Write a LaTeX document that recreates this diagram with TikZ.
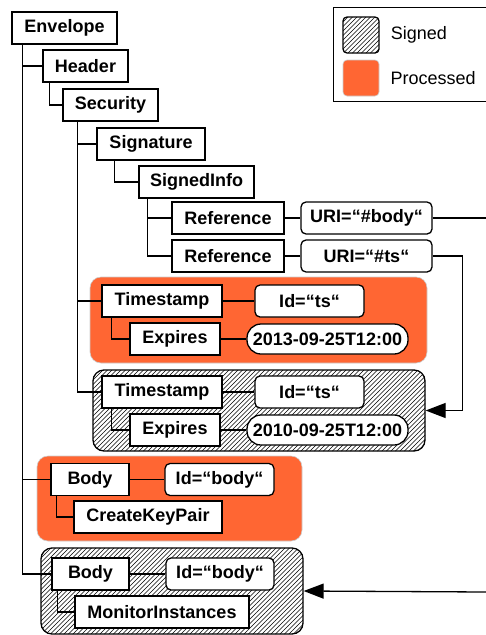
\documentclass[tikz,border=0pt]{standalone}
\usepackage{fontspec}
\setmainfont{Liberation Sans}
\usetikzlibrary{arrows.meta,patterns,positioning}

\definecolor{procorange}{RGB}{255,102,51}
\pgfdeclarepatternformonly{hatch}{\pgfqpoint{-1pt}{-1pt}}{\pgfqpoint{5.5pt}{5.5pt}}{\pgfqpoint{4.5pt}{4.5pt}}{
	\pgfsetlinewidth{0.7pt}
	\pgfpathmoveto{\pgfqpoint{0pt}{0pt}}
	\pgfpathlineto{\pgfqpoint{4.6pt}{4.6pt}}
	\pgfusepath{stroke}}

\begin{document}
\begin{tikzpicture}[x=1pt,y=-1pt,
		elem/.style={draw,fill=white,line width=1.3pt,inner sep=0pt,minimum height=32pt,font=\fontsize{18}{21}\selectfont\bfseries},
		attr/.style={elem,rounded corners=5pt},
		valu/.style={elem,rounded corners=14pt,minimum height=30pt},
		proc/.style={fill=procorange,draw=black!20,line width=0.6pt,rounded corners=11pt,inner sep=0pt},
		sign/.style={draw,line width=1.3pt,pattern=hatch,rounded corners=11pt,inner sep=0pt},
		link/.style={line width=1.3pt},
		ref/.style={line width=1.3pt,-{Triangle[length=20pt,width=15pt]}}]
	\useasboundingbox (0,0) rectangle (485,635);
	% legend
	\draw[line width=1pt] (486,7) -| (333,101) -- (486,101);
	\node[sign,rounded corners=4pt,minimum size=36pt] (keysign) at (361,35) {};
	\node[proc,rounded corners=4pt,minimum size=36pt] (keyproc) at (361,78) {};
	\node[right=11pt of keysign,inner sep=0pt,font=\fontsize{18}{21}\selectfont] (txtsign) {Signed};
	\node[right=11pt of keyproc,inner sep=0pt,font=\fontsize{18}{21}\selectfont] (txtproc) {Processed};
	% groups
	\node[proc,minimum width=337pt,minimum height=86pt] (grp1) at (258.5,320) {};
	\node[sign,minimum width=332pt,minimum height=81pt] (grp2) at (259,410.5) {};
	\node[proc,minimum width=265pt,minimum height=85pt] (grp3) at (169.5,498.5) {};
	\node[sign,minimum width=262pt,minimum height=86pt] (grp4) at (172,591) {};
	% elements
	\node[elem,minimum width=105pt] (env) at (64.5,28) {Envelope};
	\node[elem,minimum width=85pt] (hdr) at (85.5,66) {Header};
	\node[elem,minimum width=95pt] (sec) at (110.5,105) {Security};
	\node[elem,minimum width=108pt] (sig) at (151,144) {Signature};
	\node[elem,minimum width=115pt] (sinfo) at (196.5,182) {SignedInfo};
	\node[elem,minimum width=112pt] (ref1) at (228,218) {Reference};
	\node[elem,minimum width=112pt] (ref2) at (228,256) {Reference};
	\node[attr,minimum width=131pt] (uri1) at (366.5,218) {URI=“\#body“};
	\node[attr,minimum width=131pt] (uri2) at (366.5,256) {URI=“\#ts“};
	\node[elem,minimum width=120pt] (ts1) at (162,301) {Timestamp};
	\node[attr,minimum width=109pt] (id1) at (309.5,301) {Id=“ts“};
	\node[elem,minimum width=90pt] (exp1) at (175,339) {Expires};
	\node[valu,minimum width=161pt] (date1) at (327.5,339) {2013-09-25T12:00};
	\node[elem,minimum width=120pt] (ts2) at (162,392) {Timestamp};
	\node[attr,minimum width=109pt] (id2) at (309.5,392) {Id=“ts“};
	\node[elem,minimum width=90pt] (exp2) at (175,430) {Expires};
	\node[valu,minimum width=161pt] (date2) at (327.5,430) {2010-09-25T12:00};
	\node[elem,minimum width=78pt] (body1) at (90,479.5) {Body};
	\node[attr,minimum width=109pt] (idb1) at (219.5,479.5) {Id=“body“};
	\node[elem,minimum width=148pt] (ckp) at (148,517) {CreateKeyPair};
	\node[elem,minimum width=77pt] (body2) at (90.5,574) {Body};
	\node[attr,minimum width=108pt] (idb2) at (220,574) {Id=“body“};
	\node[elem,minimum width=174pt] (mon) at (162,612) {MonitorInstances};
	% tree
	\draw[link] ([xshift=11pt]env.south west) |- (hdr.west);
	\draw[link] ([xshift=11pt]env.south west) |- (body1.west);
	\draw[link] ([xshift=11pt]env.south west) |- (body2.west);
	\draw[link] ([xshift=7pt]hdr.south west) |- (sec.west);
	\draw[link] ([xshift=15pt]sec.south west) |- (sig.west);
	\draw[link] ([xshift=15pt]sec.south west) |- (ts1.west);
	\draw[link] ([xshift=15pt]sec.south west) |- (ts2.west);
	\draw[link] ([xshift=18pt]sig.south west) |- (sinfo.west);
	\draw[link] ([xshift=9pt]sinfo.south west) |- (ref1.west);
	\draw[link] ([xshift=9pt]sinfo.south west) |- (ref2.west);
	\draw[link] (ref1) -- (uri1);
	\draw[link] (ref2) -- (uri2);
	\draw[link] ([xshift=10pt]ts1.south west) |- (exp1.west);
	\draw[link] (ts1) -- (id1);
	\draw[link] (exp1) -- (date1);
	\draw[link] ([xshift=10pt]ts2.south west) |- (exp2.west);
	\draw[link] (ts2) -- (id2);
	\draw[link] (exp2) -- (date2);
	\draw[link] ([xshift=6pt]body1.south west) |- (ckp.west);
	\draw[link] (body1) -- (idb1);
	\draw[link] ([xshift=6pt]body2.south west) |- (mon.west);
	\draw[link] (body2) -- (idb2);
	% references
	\coordinate (edgeA) at (486,218);
	\coordinate (edgeB) at (486,592);
	\draw[link] (uri1) -- (edgeA);
	\draw[ref] (uri2.east) -- ++(30,0) |- (grp2.east);
	\draw[ref] (edgeB) -- (grp4.east);
\end{tikzpicture}
\end{document}
